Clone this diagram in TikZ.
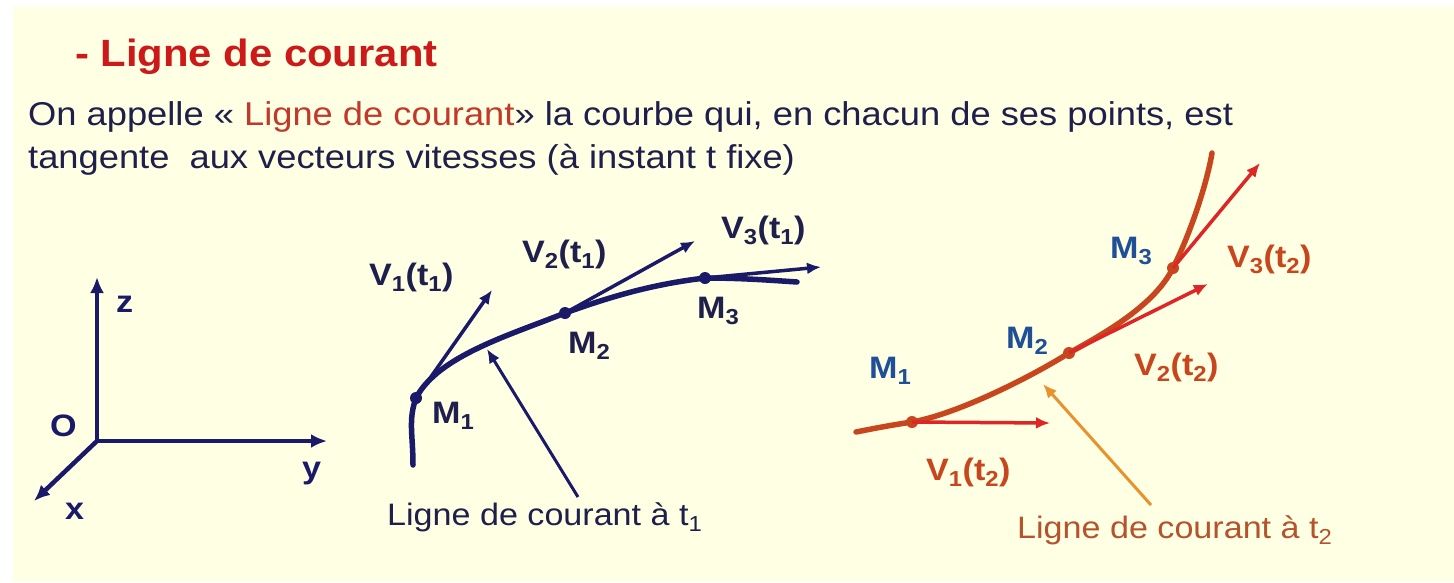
\documentclass[tikz,border=0pt]{standalone}
\usepackage{fontspec}
\setmainfont{Liberation Sans}[FakeStretch=1.1]
\usepackage{tikz}
\usetikzlibrary{positioning, arrows.meta, calc}
\usepackage{xcolor}
\definecolor{slidebg}{HTML}{FFFFE3}
\definecolor{textnavy}{HTML}{1F1F4C}
\definecolor{inkblue}{HTML}{1A1A68}
\definecolor{titlered}{HTML}{CC1A1A}
\definecolor{keyred}{HTML}{C0392B}
\definecolor{streamred}{HTML}{C8461E}
\definecolor{vecred}{HTML}{DD2626}
\definecolor{ptorange}{HTML}{E8922E}
\definecolor{labelbrown}{HTML}{B5532D}
\definecolor{pointblue}{HTML}{1F4F96}

\begin{document}
\begin{tikzpicture}[
    x=1pt, y=-1pt,
    >={Latex[length=14pt,width=12pt]},
    txt/.style={anchor=base west, inner sep=0pt},
    lbl/.style={txt, font=\fontsize{31}{37}\selectfont\bfseries},
    axis/.style={->, line width=4.5pt, inkblue, >={Latex[length=16pt,width=14pt]}},
    stream/.style={line width=5.5pt, line cap=round},
    vec/.style={->, line width=3.5pt},
    pointer/.style={->, line width=3pt},
    ptdot/.style={circle, fill, inner sep=0pt, minimum size=12pt},
  ]
  % slide background
  \useasboundingbox (0,0) rectangle (1454,582);
  \fill[white] (0,0) rectangle (1454,582);
  \fill[slidebg] (13,7) rectangle (1454,582);

  % Title and definition
  \node[txt, font=\fontsize{38}{44}\selectfont\bfseries, text=titlered] (title) at (75,66) {- Ligne de courant};
  \node[txt, font=\fontsize{33}{40}\selectfont, text=textnavy] (def1) at (28,125)
    {On appelle « \textcolor{keyred}{Ligne de courant}» la courbe qui, en chacun de ses points, est};
  \node[txt, font=\fontsize{33}{40}\selectfont, text=textnavy] (def2) at (28,168)
    {tangente\ \ aux vecteurs vitesses (à instant t fixe)};

  % Axes
  \coordinate (o) at (97,441);
  \coordinate (zend) at (97,277);
  \coordinate (yend) at (327,441);
  \coordinate (xend) at (34,501);
  \draw[axis] (o) -- (zend);
  \draw[axis] (o) -- (yend);
  \draw[axis] (o) -- (xend);
  \node[lbl, text=inkblue] (zlab) at (116,312) {z};
  \node[lbl, text=inkblue] (olab) at (50,436) {O};
  \node[lbl, text=inkblue] (ylab) at (302,478) {y};
  \node[lbl, text=inkblue] (xlab) at (65,519) {x};

  % Streamline at t1
  \coordinate (s1start) at (413,465);
  \node[ptdot, inkblue] (a1) at (416,398) {};
  \node[ptdot, inkblue] (a2) at (565,313) {};
  \node[ptdot, inkblue] (a3) at (705,278) {};
  \coordinate (s1end) at (797,282);
  \draw[stream, inkblue] (s1start) .. controls +(0,-30) and +(-8,22) .. (a1.center)
    .. controls +(22,-42) and +(-55,22) .. (a2.center)
    .. controls +(50,-18) and +(-50,6) .. (a3.center)
    .. controls +(35,0) and +(-30,-2) .. (s1end);
  \coordinate (v11) at (492,290);
  \coordinate (v21) at (695,241);
  \coordinate (v31) at (821,267);
  \draw[vec, inkblue] (a1.center) -- (v11);
  \draw[vec, inkblue] (a2.center) -- (v21);
  \draw[vec, inkblue] (a3.center) -- (v31);
  \node[lbl, text=textnavy] at (369,285) {V\textsubscript{1}(t\textsubscript{1})};
  \node[lbl, text=textnavy] at (522,262) {V\textsubscript{2}(t\textsubscript{1})};
  \node[lbl, text=textnavy] at (721,238) {V\textsubscript{3}(t\textsubscript{1})};
  \node[lbl, text=textnavy] at (432,423) {M\textsubscript{1}};
  \node[lbl, text=textnavy] at (568,353) {M\textsubscript{2}};
  \node[lbl, text=textnavy] at (697,318) {M\textsubscript{3}};
  \node[txt, font=\fontsize{31}{37}\selectfont, text=textnavy] (cap1) at (387,525)
    {Ligne de courant à t\textsubscript{1}};
  \coordinate (tail1) at (578,497);
  \coordinate (tip1) at (487,349);
  \draw[pointer, inkblue] (tail1) -- (tip1);

  % Streamline at t2
  \coordinate (s2start) at (856,432);
  \node[ptdot, streamred] (b1) at (912,422) {};
  \node[ptdot, streamred] (b2) at (1069,353) {};
  \node[ptdot, streamred] (b3) at (1173,268) {};
  \coordinate (s2end) at (1212,153);
  \draw[stream, streamred] (s2start) .. controls +(20,-4) and +(-20,3) .. (b1.center)
    .. controls +(45,-8) and +(-40,25) .. (b2.center)
    .. controls +(40,-22) and +(-18,36) .. (b3.center)
    .. controls +(18,-36) and +(-5,30) .. (s2end);
  \coordinate (v12) at (1050,423);
  \coordinate (v22) at (1208,284);
  \coordinate (v32) at (1260,163);
  \draw[vec, vecred] (b1.center) -- (v12);
  \draw[vec, vecred] (b2.center) -- (v22);
  \draw[vec, vecred] (b3.center) -- (v32);
  \node[lbl, text=streamred] at (926,480) {V\textsubscript{1}(t\textsubscript{2})};
  \node[lbl, text=streamred] at (1134,375) {V\textsubscript{2}(t\textsubscript{2})};
  \node[lbl, text=streamred] at (1227,267) {V\textsubscript{3}(t\textsubscript{2})};
  \node[lbl, text=pointblue] at (869,378) {M\textsubscript{1}};
  \node[lbl, text=pointblue] at (1006,348) {M\textsubscript{2}};
  \node[lbl, text=pointblue] at (1110,258) {M\textsubscript{3}};
  \node[txt, font=\fontsize{31}{37}\selectfont, text=labelbrown] (cap2) at (1017,538)
    {Ligne de courant à t\textsubscript{2}};
  \coordinate (tail2) at (1151,505);
  \coordinate (tip2) at (1043,384);
  \draw[pointer, ptorange] (tail2) -- (tip2);
\end{tikzpicture}
\end{document}
